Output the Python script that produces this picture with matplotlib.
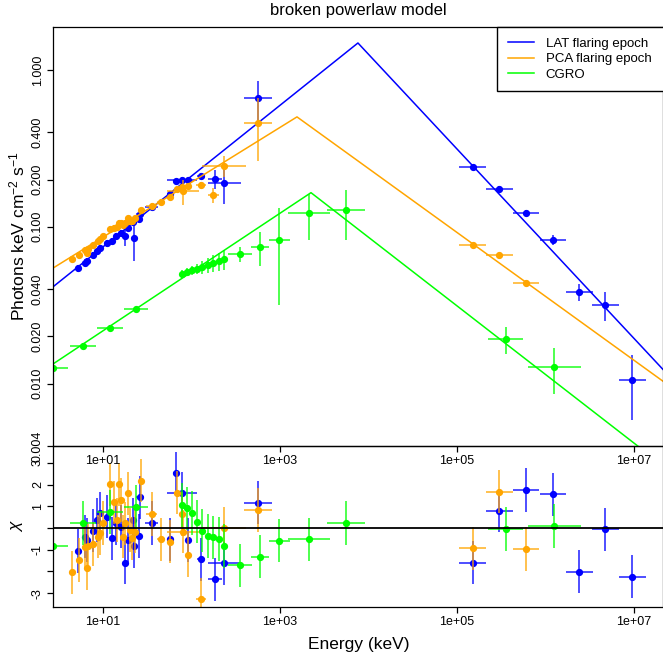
import numpy as np
import matplotlib
matplotlib.use("Agg")
import matplotlib.pyplot as plt
from matplotlib.ticker import NullLocator

plt.rcParams['font.family'] = ['Liberation Sans', 'DejaVu Sans']
plt.rcParams['mathtext.fontset'] = 'custom'
plt.rcParams['mathtext.rm'] = 'Liberation Sans'
plt.rcParams['mathtext.it'] = 'Liberation Sans:italic'

# LAT flaring epoch (X-ray part then gamma part)
lat_energy = [5.26, 6.26, 6.65, 7.65, 8.49, 9.25, 11.0, 12.5, 14.0, 15.8, 17.7, 19.3, 21.7,
              22.6, 25.7, 26.2, 35.5, 57.1, 66.8, 77.5, 92.0, 128, 184, 235, 560,
              1.50e5, 3.01e5, 6.02e5, 1.21e6, 2.41e6, 4.74e6, 9.57e6]
lat_flux = [0.0544, 0.0590, 0.0603, 0.0658, 0.0696, 0.0730, 0.0787, 0.0809, 0.0877, 0.0916,
            0.0877, 0.0986, 0.1076, 0.0851, 0.1124, 0.121, 0.134, 0.161, 0.197, 0.199, 0.198,
            0.212, 0.201, 0.190, 0.660,
            0.242, 0.175, 0.122, 0.0827, 0.0384, 0.0316, 0.0106]
lat_flux_err = [0.003, 0.003, 0.003, 0.003, 0.003, 0.003, 0.004, 0.004, 0.004, 0.004, 0.012,
                0.005, 0.006, 0.025, 0.005, 0.006, 0.005, 0.006, 0.006, 0.008, 0.008, 0.008,
                0.028, 0.05, 0.185,
                0.007, 0.006, 0.005, 0.006, 0.005, 0.0065, 0.0047]
lat_dex = [0.02, 0.02, 0.02, 0.02, 0.02, 0.02, 0.02, 0.02, 0.02, 0.02, 0.02, 0.02, 0.02,
           0.02, 0.02, 0.05, 0.07, 0.03, 0.03, 0.17, 0.03, 0.05, 0.08, 0.19, 0.16,
           0.15, 0.15, 0.15, 0.15, 0.15, 0.15, 0.15]
lat_chi = [-1.06, -0.4, -0.55, -0.12, 0.37, 0.68, 0.52, -0.47, 0.22, 0.06, -1.6, -0.55, 0.37,
           -0.83, -0.37, 1.41, 0.24, -0.52, 2.52, 1.6, -0.55, -1.44, -2.36, -1.63, 1.17,
           -1.6, 0.8, 1.75, 1.55, -2.01, -0.06, -2.24]

# PCA flaring epoch
pca_energy = [4.43, 5.35, 6.26, 6.54, 6.82, 7.77, 8.85, 9.25, 10.1, 12.0, 13.4, 14.3, 15.3,
              15.8, 16.9, 17.7, 19.3, 20.2, 21.1, 23.0, 26.7, 35.5, 45.2, 57.1, 68.0, 77.5,
              79.5, 92.0, 128, 176, 235, 560, 1.50e5, 3.01e5, 6.02e5]
pca_flux = [0.0623, 0.0663, 0.0709, 0.0683, 0.0724, 0.0762, 0.0815, 0.0832, 0.0870, 0.0971,
            0.0986, 0.099, 0.106, 0.105, 0.102, 0.106, 0.113, 0.109, 0.1095, 0.114,
            0.128, 0.136, 0.144, 0.155, 0.174, 0.179, 0.168, 0.181, 0.185, 0.160,
            0.245, 0.462, 0.0768, 0.0656, 0.0438]
pca_flux_err = [0.0025, 0.0025, 0.0025, 0.0025, 0.0025, 0.003, 0.003, 0.003, 0.003, 0.0035,
                0.0035, 0.0035, 0.004, 0.004, 0.004, 0.004, 0.004, 0.004, 0.004, 0.004,
                0.0045, 0.005, 0.005, 0.0055, 0.006, 0.006, 0.03, 0.006, 0.007, 0.018,
                0.037, 0.2, 0.002, 0.002, 0.002]
pca_dex = [0.02, 0.02, 0.02, 0.02, 0.02, 0.02, 0.02, 0.02, 0.02, 0.02, 0.02, 0.02, 0.02,
           0.02, 0.02, 0.02, 0.02, 0.02, 0.02, 0.02, 0.02, 0.06, 0.05, 0.03, 0.03, 0.03,
           0.18, 0.03, 0.06, 0.06, 0.25, 0.16, 0.15, 0.15, 0.15]
pca_chi = [-2.04, -1.47, -0.89, -1.86, -0.83, -0.74, -0.4, -0.25, 0.24, 2.01,
           1.18, 0.37, 2.01, 1.29, -0.4, 0.22, 1.6, -0.09, -0.47, -0.17,
           2.18, 0.65, -0.52, -0.63, 1.63, 0.65, -0.17, -1.24, -3.29, -5.0,
           -0.01, 0.83, -0.94, 1.67, -0.97]

# CGRO
cgro_energy = [2.72, 5.94, 12.0, 23.6, 77.5, 88.3, 100.5, 114.5, 132.4, 154.9, 176, 204.5,
               233, 353, 594, 982, 2140, 5570, 3.55e5, 1.26e6]
cgro_flux = [0.01264, 0.01746, 0.0227, 0.0300, 0.0500, 0.0514, 0.0528, 0.0540, 0.0552,
             0.0570, 0.0587, 0.0605, 0.0621, 0.0673, 0.0742, 0.0818, 0.1228, 0.127,
             0.0193, 0.01277]
cgro_flux_err = [0.0006, 0.0006, 0.0008, 0.001, 0.003, 0.003, 0.0035, 0.004, 0.005, 0.006,
                 0.007, 0.008, 0.009, 0.0073, 0.018, 0.05, 0.04, 0.045, 0.0038, 0.0042]
cgro_dex = [0.17, 0.15, 0.15, 0.14, 0.015, 0.015, 0.015, 0.015, 0.015, 0.015, 0.015, 0.015,
            0.015, 0.136, 0.1, 0.12, 0.24, 0.22, 0.2, 0.3]
cgro_chi = [-0.83, 0.23, 0.74, 0.97, 1.06, 0.91, 0.7, 0.29, -0.12, -0.37, -0.43, -0.51,
            -0.83, -1.72, -1.32, -0.58, -0.52, 0.23, -0.05, 0.09]

# broken power law models (start, break, end)
lat_model_e = [2.65, 7600, 2.13e7]
lat_model_f = [0.0409, 1.486, 0.0123]
pca_model_e = [2.65, 1556, 2.13e7]
pca_model_f = [0.054, 0.502, 0.01035]
cgro_model_e = [2.65, 2240, 2.13e7]
cgro_model_f = [0.0132, 0.165, 0.0030]

flux_ticks = [1.0, 0.4, 0.2, 0.1, 0.04, 0.02, 0.01, 0.004]
flux_tick_labels = ['1.000', '0.400', '0.200', '0.100', '0.040', '0.020', '0.010', '0.004']
chi_ticks = [-3, -2, -1, 0, 1, 2, 3]
chi_tick_labels = ['-3', '', '-1', '', '1', '2', '3']
energy_ticks = [1e1, 1e3, 1e5, 1e7]
energy_tick_labels = ['1e+01', '1e+03', '1e+05', '1e+07']

W, H = 663, 661
fig = plt.figure(figsize=(W / 100, H / 100), dpi=100)

ax_res = fig.add_axes([53 / W, 1 - 607 / H, 610 / W, 161 / H])
ax_res.set_facecolor('none')
ax = fig.add_axes([53 / W, 1 - 446 / H, 610 / W, 419 / H])
ax.set_facecolor('none')

datasets = [
    ('LAT flaring epoch', 'blue', lat_energy, lat_flux, lat_flux_err, lat_dex, lat_chi,
     lat_model_e, lat_model_f),
    ('PCA flaring epoch', 'orange', pca_energy, pca_flux, pca_flux_err, pca_dex, pca_chi,
     pca_model_e, pca_model_f),
    ('CGRO', '#00ff00', cgro_energy, cgro_flux, cgro_flux_err, cgro_dex, cgro_chi,
     cgro_model_e, cgro_model_f),
]

for label, color, e, f, ferr, dex, chi, me, mf in datasets:
    e = np.array(e)
    dex = np.array(dex)
    xerr = [e - e / 10 ** dex, e * 10 ** dex - e]
    ax.plot(me, mf, color=color, lw=1.1, label=label)
    ax.errorbar(e, f, yerr=ferr, xerr=xerr, fmt='none', ecolor=color, elinewidth=1.3,
                alpha=0.75)
    ax.plot(e, f, 'o', color=color, ms=4.2)
    ax_res.errorbar(e, chi, yerr=1.0, xerr=xerr, fmt='none', ecolor=color, elinewidth=1.3,
                    alpha=0.75)
    ax_res.plot(e, chi, 'o', color=color, ms=4.2)

ax_res.axhline(0, color='black', lw=1.3)

for a in (ax, ax_res):
    a.set_xscale('log')
    a.set_xlim(10 ** 0.435, 10 ** 7.328)
    a.xaxis.set_minor_locator(NullLocator())
    a.set_xticks(energy_ticks, energy_tick_labels)
    a.tick_params(direction='out', length=4, width=0.9, labelsize=9, pad=2.5)
    for s in a.spines.values():
        s.set_linewidth(0.9)

ax.set_yscale('log')
ax.set_ylim(0.004027, 1.879)
ax.yaxis.set_minor_locator(NullLocator())
ax.set_yticks(flux_ticks, flux_tick_labels, rotation=90, va='center')

ax_res.set_ylim(-3.64, 3.78)
ax_res.set_yticks(chi_ticks, chi_tick_labels, rotation=90, va='center')

ax.legend(loc='upper left', bbox_to_anchor=(497 / W, 0, 0.5, 1 - 27 / H),
          bbox_transform=fig.transFigure, mode='expand', borderaxespad=0,
          fontsize=9.5, handlelength=2.0, handletextpad=0.9, labelspacing=0.25,
          borderpad=0.8, fancybox=False, framealpha=1, edgecolor='black')

fig.text(358 / W, 1 - 10 / H, 'broken powerlaw model', ha='center', va='center', fontsize=12)
fig.text(17.5 / W, 1 - 236.5 / H, 'Photons keV cm$^{-2}$ s$^{-1}$', rotation=90,
         ha='center', va='center', fontsize=12.5)
fig.text(17 / W, 1 - 526 / H, r'$\chi$', rotation=90, ha='center', va='center', fontsize=12.5)
fig.text(359 / W, 1 - 645 / H, 'Energy (keV)', ha='center', va='center', fontsize=12.5)

fig.savefig('out.png', dpi=100)
